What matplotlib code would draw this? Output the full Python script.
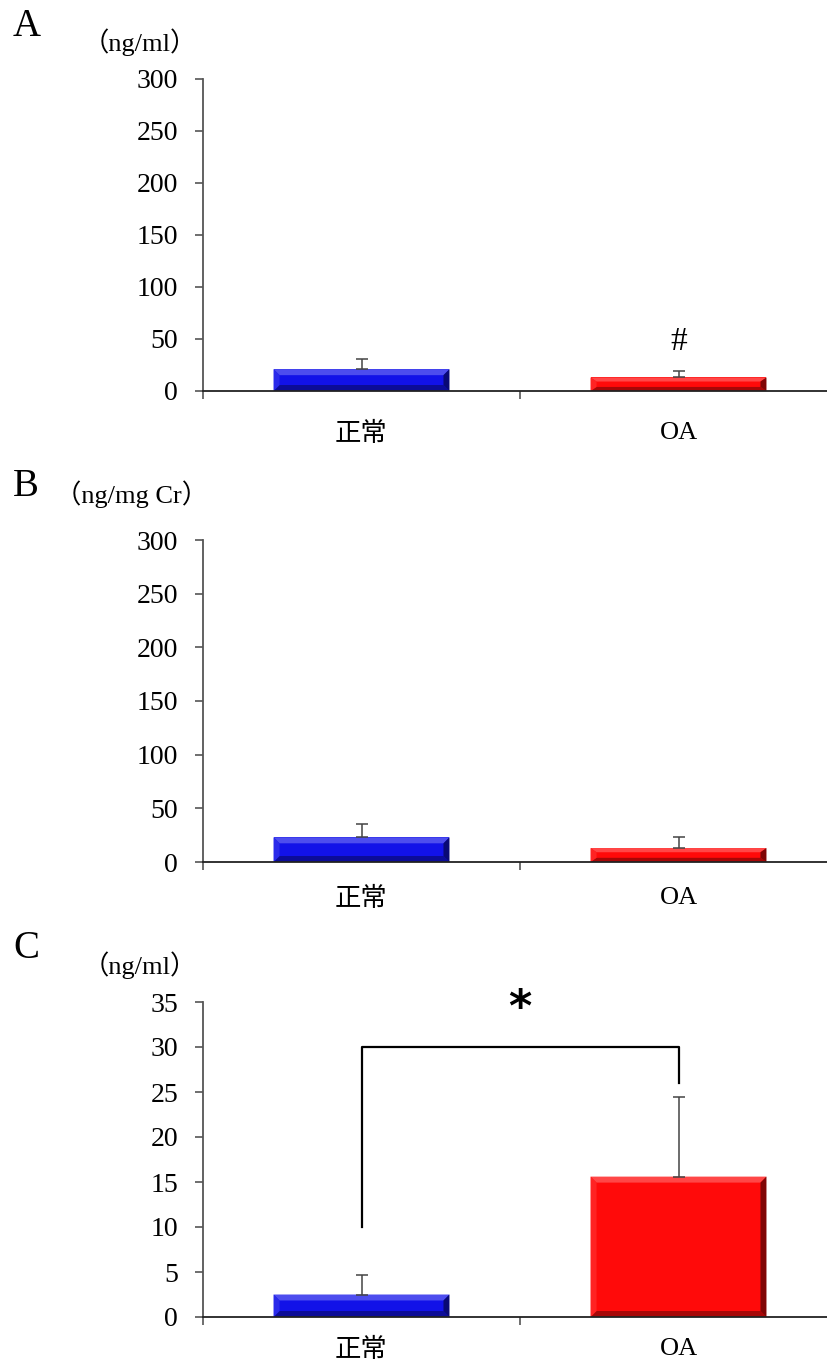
import numpy as np
import matplotlib.pyplot as plt
from matplotlib.patches import Polygon

plt.rcParams['font.family'] = ['Liberation Serif', 'Noto Sans CJK JP']

groups = ['正常', 'OA']
colors = ['#1212e8', '#ff0a0a']

# mean and SD per panel
a_mean = [21, 13]
a_sd = [10, 6]
b_mean = [23, 13]
b_sd = [12.7, 10]
c_mean = [2.5, 15.6]
c_sd = [2.2, 8.8]

panels = [
    ('A', '（ng/ml）', a_mean, a_sd, 300, 50),
    ('B', '（ng/mg Cr）', b_mean, b_sd, 300, 50),
    ('C', '（ng/ml）', c_mean, c_sd, 35, 5),
]

W, H = 827, 1369
fig = plt.figure(figsize=(W / 100, H / 100), dpi=100)

# axes boxes in pixels: (left, top, bottom) and x label pad
boxes = [(203, 79, 391), (203, 540, 862), (203, 1002, 1317)]
label_pads = [22, 18, 15]


def shade(rgb, f):
    rgb = np.array(plt.matplotlib.colors.to_rgb(rgb))
    if f >= 0:
        return tuple(rgb + (1 - rgb) * f)
    return tuple(rgb * (1 + f))


def bevel_bar(ax, x, h, width, color, bpx=6):
    # convert bevel size in pixels to data units
    bb = ax.get_window_extent()
    x0l, x1l = ax.get_xlim()
    y0l, y1l = ax.get_ylim()
    bx = bpx * (x1l - x0l) / bb.width
    by = bpx * (y1l - y0l) / bb.height
    by = min(by, h * 0.3)
    L, R = x - width / 2, x + width / 2
    B, T = 0, h
    ax.add_patch(Polygon([(L, B), (R, B), (R, T), (L, T)], closed=True,
                         facecolor=color, edgecolor='none', zorder=2))
    parts = [
        ([(L, T), (R, T), (R - bx, T - by), (L + bx, T - by)], shade(color, 0.25)),
        ([(L, B), (R, B), (R - bx, B + by), (L + bx, B + by)], shade(color, -0.35)),
        ([(L, B), (L + bx, B + by), (L + bx, T - by), (L, T)], shade(color, 0.1)),
        ([(R, B), (R - bx, B + by), (R - bx, T - by), (R, T)], shade(color, -0.5)),
    ]
    for pts, c in parts:
        ax.add_patch(Polygon(pts, closed=True, facecolor=c, edgecolor='none', zorder=2))


axes = []
for (letter, unit, mean, sd, ymax, step), (left, top, bottom), lpad in zip(panels, boxes, label_pads):
    ax = fig.add_axes([left / W, 1 - bottom / H, 1 - left / W, (bottom - top) / H])
    axes.append(ax)
    ax.set_xlim(0, (W - left) / 317)
    ax.set_ylim(0, ymax)
    for s in ['top', 'right']:
        ax.spines[s].set_visible(False)
    ax.spines['left'].set_color('#555555')
    ax.spines['bottom'].set_color('#222222')
    ax.spines['left'].set_linewidth(1.3)
    ax.spines['bottom'].set_linewidth(1.3)
    ax.set_yticks(np.arange(0, ymax + step, step))
    ax.tick_params(axis='y', length=6, width=1.2, color='#555555', labelsize=20, pad=12)
    ax.set_xticks([0, 1])
    ax.set_xticklabels([])
    ax.set_xticks([0.5, 1.5], minor=True)
    ax.set_xticklabels(groups, minor=True, fontsize=19)
    ax.tick_params(axis='x', which='major', length=6, width=1.2, color='#555555')
    ax.tick_params(axis='x', which='minor', length=0, pad=lpad)

    xs = [0.5, 1.5]
    for x, m, c in zip(xs, mean, colors):
        bevel_bar(ax, x, m, 0.555, c)
    ax.errorbar(xs, mean, yerr=[[0, 0], sd], fmt='none', ecolor='#444444',
                elinewidth=1.1, capsize=4, capthick=1.1, zorder=3)

    fig.text(13 / W, 1 - (top - 53) / H, letter, fontsize=28, ha='left', va='center')
    if letter == 'B':
        fig.text(55 / W, 1 - (top - 46) / H, unit, fontsize=19, ha='left', va='center')
    else:
        fig.text(197 / W, 1 - (top - 37) / H, unit, fontsize=19, ha='right', va='center')

# marker over OA in panel A
ax = axes[0]
ax.annotate('#', xy=(1.5, a_mean[1] + a_sd[1]), xytext=(0, 21), textcoords='offset points',
            ha='center', va='center', fontsize=24)

# significance bracket in panel C
ax = axes[2]
ax.plot([0.5, 0.5, 1.5, 1.5], [10, 30, 30, 26], color='black', lw=1.6, zorder=4)
ax.annotate('*', xy=(1.0, 30), xytext=(0, 28), textcoords='offset points',
            ha='center', va='center', fontsize=32, fontweight='bold', family='DejaVu Sans')

fig.savefig('out.png', dpi=100)
